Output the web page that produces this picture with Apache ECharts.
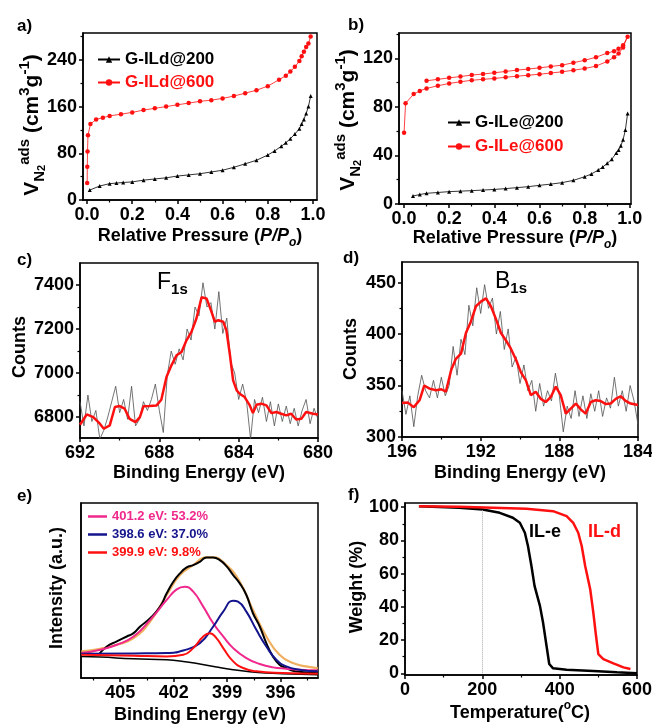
<!DOCTYPE html>
<html><head><meta charset="utf-8">
<script src="https://cdn.jsdelivr.net/npm/echarts@6/dist/echarts.min.js"></script>
<style>html,body{margin:0;padding:0;background:#fff}#c{width:652px;height:724px}</style>
</head><body><div id="c"></div><script>
const F = '"Liberation Sans", Arial, Helvetica, sans-serif';

// ---- panel a: G-ILd isotherms ----
const aX200 = [0.012,0.056,0.1,0.13,0.16,0.2,0.25,0.3,0.35,0.4,0.45,0.5,0.55,0.6,0.65,0.7,0.75,0.8,0.83,0.86,0.88,0.9,0.92,0.94,0.95,0.96,0.97,0.98,0.99];
const aY200 = [17,24,28,29,30,31,34,36,38,41,43,45,48,51,56,62,68,77,84,92,98,105,113,122,130,138,148,160,178];
const aX600 = [0.0005,0.001,0.002,0.004,0.015,0.04,0.07,0.1,0.15,0.2,0.25,0.3,0.35,0.4,0.45,0.5,0.55,0.6,0.65,0.7,0.75,0.8,0.85,0.88,0.9,0.92,0.94,0.95,0.96,0.97,0.98,0.99];
const aY600 = [29,57,83,111,130,138,141,144,147,150,154,157,160,163,166,169,171,174,178,183,188,195,206,213,220,228,238,246,254,262,268,280];

// ---- panel b: G-ILe isotherms ----
const bX200 = [0.04,0.07,0.1,0.15,0.2,0.25,0.3,0.35,0.4,0.45,0.5,0.55,0.6,0.65,0.7,0.75,0.8,0.83,0.86,0.88,0.9,0.92,0.94,0.95,0.96,0.97,0.98,0.99];
const bY200 = [6.6,7.8,8.8,9.5,10.2,10.6,11,11.5,12,12.7,13.5,14.3,15.4,16.4,17.6,19.5,22.5,24.8,28,30.5,33.5,37,42,44.5,48,53,61,74.7];
const bX600 = [0.0005,0.007,0.043,0.07,0.1,0.15,0.2,0.25,0.3,0.35,0.4,0.45,0.5,0.55,0.6,0.65,0.7,0.75,0.8,0.85,0.9,0.93,0.95,0.97,0.99,
               0.97,0.95,0.93,0.9,0.85,0.8,0.75,0.7,0.65,0.6,0.55,0.5,0.45,0.4,0.35,0.3,0.25,0.2,0.15,0.1];
const bY600 = [58.8,83,90.6,93.2,95.3,97.5,99.4,100.8,102,102.8,103.5,104.5,105.4,106.2,107,108,109,110.3,111.7,113.7,117.6,121,124,129,138,
               131,128,126,124.5,121,118.5,116.5,114.5,113.4,112.3,111.3,110.4,109.3,108.2,107.2,106.3,105.1,104,102.8,101.6];

// ---- panel c: F1s ----
const cRawX = [692,691.8,691.6,691.4,691.2,691,690.8,690.6,690.4,690.2,690,689.8,689.6,689.4,689.2,689,688.8,688.6,688.4,688.2,688,687.8,687.6,687.4,687.2,687,686.8,686.6,686.4,686.2,686,685.8,685.6,685.4,685.2,685,684.8,684.6,684.4,684.2,684,683.8,683.6,683.4,683.2,683,682.8,682.6,682.4,682.2,682,681.8,681.6,681.4,681.2,681,680.8,680.6,680.4,680.2,680];
const cRawY = [6870,6760,6900,6780,6830,6700,6740,6800,6870,6940,6820,6880,6790,6940,6760,6790,6870,6830,6880,6950,6830,6730,6990,7100,7040,7110,7060,7200,7150,7300,7260,7410,7300,7320,7200,7370,7180,7250,7050,7000,6880,6950,6870,6700,6880,6820,6890,6780,6870,6760,6860,6780,6850,6770,6840,6760,6830,6880,6770,6840,6790];
const cFitX = [692,691.66,691.33,691.0,690.8,690.5,690.24,690.0,689.75,689.5,689.2,688.98,688.8,688.5,688.14,687.9,687.64,687.39,687.13,686.88,686.63,686.38,686.13,685.87,685.62,685.37,685.2,685.03,684.78,684.62,684.45,684.28,684.1,683.95,683.7,683.44,683.28,683.1,682.86,682.6,682.35,682.1,681.85,681.6,681.35,681.1,680.84,680.6,680.25,680];
const cFitY = [6765,6812,6800,6770,6747,6762,6846,6850,6838,6792,6777,6800,6849,6850,6853,6879,6982,7035,7081,7096,7149,7187,7248,7344,7339,7278,7233,7240,7233,7195,7089,6967,6921,6906,6891,6853,6818,6856,6861,6853,6818,6823,6815,6808,6815,6789,6792,6823,6815,6812];

// ---- panel d: B1s ----
const dRawX = [196,195.8,195.6,195.4,195.2,195,194.8,194.6,194.4,194.2,194,193.8,193.6,193.4,193.2,193,192.8,192.6,192.4,192.2,192,191.8,191.6,191.4,191.2,191,190.8,190.6,190.4,190.2,190,189.8,189.6,189.4,189.2,189,188.8,188.6,188.4,188.2,188,187.8,187.6,187.4,187.2,187,186.8,186.6,186.4,186.2,186,185.8,185.6,185.4,185.2,185,184.8,184.6,184.4,184.2,184];
const dRawY = [345,322,340,310,340,360,345,338,355,338,358,340,350,388,360,395,380,428,408,445,420,448,425,435,400,422,385,405,368,378,352,370,345,355,325,352,330,345,335,362,340,305,330,318,345,320,340,318,342,325,345,320,338,328,358,330,345,325,350,335,312];
const dFitX = [196,195.7,195.4,195.1,194.87,194.6,194.27,194.0,193.77,193.5,193.26,193.0,192.75,192.5,192.24,191.99,191.73,191.48,191.23,190.97,190.72,190.47,190.2,189.96,189.7,189.45,189.2,188.94,188.69,188.43,188.18,187.93,187.67,187.42,187.16,186.9,186.66,186.4,186.15,185.9,185.64,185.39,185.13,184.88,184.63,184.37,184];
const dFitY = [333,333.4,329,336,350,347,345.5,346.4,344,365,376,381,401,412,427,431.5,434.7,427,415,401,394,386,375,363,355,340.6,344,337,334,339,349,340.6,322.7,327.6,332.5,326.6,322.7,334,335.7,335,332,332.5,337,339.6,335,332.5,331];

// ---- panel e: N1s deconvolution (arbitrary units) ----
const eExpX = [406.21,405.75,405.19,404.63,404.25,403.88,403.32,402.76,402.39,402.02,401.65,401.27,400.9,400.53,400.16,399.78,399.41,399.04,398.66,398.29,397.92,397.55,397.17,396.8,396.43,396.06,395.68,395.31,394.94,394.57,393.91];
const eExpY = [70,95,110,125,135,155,180,215,255,290,315,333,340,350,363,363,355,337,310,285,250,195,155,105,65,40,30,22,19,17,14];
const eBgX = [407.18,406.12,404.25,402.39,401.46,400.53,399.6,398.66,397.73,396.8,395.87,393.91];
const eBgY = [65,63,58,55,50,42,33,25,19,15,13,10];
const eEnvX = [407.18,406.12,405.19,404.25,403.32,402.39,401.65,400.9,400.16,399.78,399.04,398.29,397.55,396.8,396.06,395.31,394.57,393.91];
const eEnvY = [80,88,100,120,170,250,310,340,363,363,340,290,205,125,70,45,35,30];
const ePinkX = [407.18,406.12,405.19,404.25,403.32,402.39,401.83,401.37,400.9,400.34,399.78,399.22,398.66,397.92,397.17,396.43,395.68,394.94,393.91];
const ePinkY = [75,85,100,125,175,235,267,275,260,215,165,125,90,60,42,32,28,25,23];
const eBlueX = [407.18,404.25,402.39,401.46,400.53,399.78,399.22,398.66,398.39,397.92,397.36,396.8,396.24,395.68,394.94,393.91];
const eBlueY = [73,74,75,83,105,155,200,233,230,200,145,95,55,35,25,20];
const eRedX = [407.18,404.25,402.39,401.46,400.9,400.34,399.97,399.6,399.22,398.66,398.1,397.36,395.87,393.91];
const eRedY = [70,67,65,70,90,125,135,120,90,50,30,20,15,13];
const eNames = ['401.2 eV: 53.2%','398.6 eV: 37.0%','399.9 eV: 9.8%'];

// ---- panel f: TGA ----
const fEX = [36,140,201,245,279,297,310,318,327,335,349,357,366,373,383,418,487,548,600];
const fEY = [100.6,99.6,98.6,96.6,93.6,90.6,84.6,76.6,64.6,52.6,40.6,30.6,16.6,5.6,3,2.2,1.4,0.6,0];
const fDX = [36,140,227,314,383,418,435,448,457,466,479,487,494,500,513,539,565,583];
const fDY = [100.6,100.2,99.6,99,97.6,94.6,90.6,84.6,76.6,64.6,50.6,36.6,22.6,11.6,8.6,6,3.6,2.6];

// ---- tick values ----
const tkA_x = [0,0.2,0.4,0.6,0.8,1.0], mnA_x = [0.1,0.3,0.5,0.7,0.9];
const tkA_y = [0,80,160,240], mnA_y = [40,120,200,280];
const tkB_y = [0,40,80,120], mnB_y = [20,60,100,140];
const tkC_x = [692,688,684,680], mnC_x = [690,686,682];
const tkC_y = [6800,7000,7200,7400], mnC_y = [6900,7100,7300];
const tkD_x = [196,192,188,184], mnD_x = [194,190,186];
const tkD_y = [300,350,400,450], mnD_y = [325,375,425];
const tkE_x = [405,402,399,396], mnE_x = [406.5,403.5,400.5,397.5,394.5];
const tkF_x = [0,200,400,600], mnF_x = [100,300,500];
const tkF_y = [0,20,40,60,80,100], mnF_y = [10,30,50,70,90];

function pts(xs, ys){ return xs.map((x,i)=>[x, ys[i]]); }

const grids = [
 {left:83, top:33, width:234, height:167},
 {left:399, top:33, width:232, height:171},
 {left:80, top:263, width:238, height:175},
 {left:402, top:262, width:236, height:175},
 {left:81, top:503, width:237, height:175},
 {left:405, top:503, width:232, height:172}
].map(g=>Object.assign({show:true, borderColor:'#000', borderWidth:1.5, backgroundColor:'transparent', containLabel:false, outerBoundsMode:'none'}, g));

const LS = {color:'#000', fontFamily:F, fontWeight:'bold', fontSize:18};
function mainAxis(gi, min, max, labels, fmt, extra){
  return Object.assign({
    type:'value', gridIndex:gi, min:min, max:max,
    axisLine:{show:true, onZero:false, lineStyle:{color:'#000', width:1.5}},
    axisTick:{show:labels.length>0, inside:false, length:4, customValues:labels, lineStyle:{color:'#000', width:1.5}},
    axisLabel:Object.assign({show:labels.length>0, margin:6, customValues:labels, formatter:fmt||(v=>String(v))}, LS),
    splitLine:{show:false}
  }, extra||{});
}
function minorAxis(gi, min, max, vals, extra){
  return Object.assign({
    type:'value', gridIndex:gi, min:min, max:max,
    axisLine:{show:false, onZero:false},
    axisTick:{show:vals.length>0, inside:false, length:2.5, customValues:vals, lineStyle:{color:'#000', width:1.2}},
    axisLabel:{show:false},
    splitLine:{show:false}
  }, extra||{});
}
const f1 = v=>v.toFixed(1);
const xAxes = [
  mainAxis(0,-0.018,1.018,tkA_x,f1,{position:'bottom'}), minorAxis(0,-0.018,1.018,mnA_x,{position:'bottom'}),
  mainAxis(1,-0.022,1.005,tkA_x,f1,{position:'bottom'}), minorAxis(1,-0.022,1.005,mnA_x,{position:'bottom'}),
  mainAxis(2,680,692,tkC_x,null,{position:'bottom',inverse:true}), minorAxis(2,680,692,mnC_x,{position:'bottom',inverse:true}),
  mainAxis(3,184,196,tkD_x,null,{position:'bottom',inverse:true}), minorAxis(3,184,196,mnD_x,{position:'bottom',inverse:true}),
  mainAxis(4,393.9,407.2,tkE_x,null,{position:'bottom',inverse:true}), minorAxis(4,393.9,407.2,mnE_x,{position:'bottom',inverse:true}),
  mainAxis(5,0,600,tkF_x,null,{position:'bottom'}), minorAxis(5,0,600,mnF_x,{position:'bottom'})
];
const yAxes = [
  mainAxis(0,0,286,tkA_y,null,{position:'left'}), minorAxis(0,0,286,mnA_y,{position:'left'}),
  mainAxis(1,0,141,tkB_y,null,{position:'left'}), minorAxis(1,0,141,mnB_y,{position:'left'}),
  mainAxis(2,6705,7500,tkC_y,null,{position:'left'}), minorAxis(2,6705,7500,mnC_y,{position:'left'}),
  mainAxis(3,300,470,tkD_y,null,{position:'left'}), minorAxis(3,300,470,mnD_y,{position:'left'}),
  mainAxis(4,0,527,[],null,{position:'left'}), minorAxis(4,0,527,[],{position:'left'}),
  mainAxis(5,-1,102.5,tkF_y,null,{position:'left'}), minorAxis(5,-1,102.5,mnF_y,{position:'left'})
];

function ser(gi, name, data, o){
  return Object.assign({type:'line', name:name, xAxisIndex:2*gi, yAxisIndex:2*gi, data:data, animation:false, silent:true}, o);
}
const RED = '#ff1010', PINK = '#f0288c', NAVY = '#14148c', ORANGE = '#f0b060';
const series = [
  ser(0,'G-ILd@200',pts(aX200,aY200),{symbol:'triangle',symbolSize:4,itemStyle:{color:'#000'},lineStyle:{color:'#000',width:0.8}}),
  ser(0,'G-ILd@600',pts(aX600,aY600),{symbol:'circle',symbolSize:4.5,itemStyle:{color:RED},lineStyle:{color:RED,width:0.8}}),
  ser(1,'G-ILe@200',pts(bX200,bY200),{symbol:'triangle',symbolSize:4,itemStyle:{color:'#000'},lineStyle:{color:'#000',width:0.8}}),
  ser(1,'G-ILe@600',pts(bX600,bY600),{symbol:'circle',symbolSize:4.5,itemStyle:{color:RED},lineStyle:{color:RED,width:0.8}}),
  ser(2,'c raw',pts(cRawX,cRawY),{symbol:'none',lineStyle:{color:'#505050',width:0.8}}),
  ser(2,'c fit',pts(cFitX,cFitY),{symbol:'none',lineStyle:{color:RED,width:2.5}}),
  ser(3,'d raw',pts(dRawX,dRawY),{symbol:'none',lineStyle:{color:'#505050',width:0.8}}),
  ser(3,'d fit',pts(dFitX,dFitY),{symbol:'none',lineStyle:{color:RED,width:2.5}}),
  ser(4,'env',pts(eEnvX,eEnvY),{symbol:'none',smooth:true,lineStyle:{color:ORANGE,width:2.2}}),
  ser(4,'exp',pts(eExpX,eExpY),{symbol:'none',smooth:true,lineStyle:{color:'#000',width:2}}),
  ser(4,'bg',pts(eBgX,eBgY),{symbol:'none',smooth:true,lineStyle:{color:'#000',width:1.5}}),
  ser(4,eNames[0],pts(ePinkX,ePinkY),{symbol:'none',smooth:true,itemStyle:{color:PINK},lineStyle:{color:PINK,width:2}}),
  ser(4,eNames[1],pts(eBlueX,eBlueY),{symbol:'none',smooth:true,itemStyle:{color:NAVY},lineStyle:{color:NAVY,width:2}}),
  ser(4,eNames[2],pts(eRedX,eRedY),{symbol:'none',smooth:true,itemStyle:{color:RED},lineStyle:{color:RED,width:2}}),
  ser(5,'IL-e',pts(fEX,fEY),{symbol:'none',lineStyle:{color:'#000',width:2.5},
     markLine:{silent:true,symbol:'none',animation:false,label:{show:false},lineStyle:{color:'#aaa',type:'dotted',width:1},
       data:[[{coord:[200,0]},{coord:[200,98.5]}]]}}),
  ser(5,'IL-d',pts(fDX,fDY),{symbol:'none',lineStyle:{color:RED,width:2.5}})
];

const LT = {color:'#000', fontFamily:F, fontWeight:'bold', fontSize:17};
const legends = [
  {data:['G-ILd@200',{name:'G-ILd@600',textStyle:{color:RED}}], left:92, top:46, orient:'vertical', itemWidth:22, itemHeight:8, itemGap:6, textStyle:LT, selectedMode:false},
  {data:['G-ILe@200',{name:'G-ILe@600',textStyle:{color:RED}}], left:442, top:109, orient:'vertical', itemWidth:22, itemHeight:8, itemGap:7, textStyle:LT, selectedMode:false},
  {data:[{name:eNames[0],textStyle:{color:PINK}},{name:eNames[1],textStyle:{color:NAVY}},{name:eNames[2],textStyle:{color:RED}}],
   left:83, top:505, orient:'vertical', icon:'rect', itemWidth:19, itemHeight:2.5, itemGap:5, textStyle:Object.assign({},LT,{fontSize:13}), selectedMode:false}
];

// ---- text graphics ----
const RICH = {
  b:{fontFamily:F, fontSize:18, fontWeight:'bold', fill:'#000', lineHeight:26, verticalAlign:'middle'},
  bi:{fontFamily:F, fontSize:18, fontWeight:'bold', fontStyle:'italic', fill:'#000', lineHeight:26, verticalAlign:'middle'},
  sio:{fontFamily:F, fontSize:12, fontWeight:'bold', fontStyle:'italic', fill:'#000', lineHeight:14, verticalAlign:'bottom'},
  sp:{fontFamily:F, fontSize:12, fontWeight:'bold', fill:'#000', lineHeight:12, verticalAlign:'top'},
  B:{fontFamily:F, fontSize:21, fontWeight:'bold', fill:'#000', lineHeight:30, verticalAlign:'middle'},
  SB:{fontFamily:F, fontSize:15, fontWeight:'bold', fill:'#000', lineHeight:15, verticalAlign:'bottom'},
  SB2:{fontFamily:F, fontSize:11, fontWeight:'bold', fill:'#000', lineHeight:9, verticalAlign:'bottom'},
  PB:{fontFamily:F, fontSize:15, fontWeight:'bold', fill:'#000', lineHeight:15, verticalAlign:'top'},
  F:{fontFamily:F, fontSize:23, fill:'#000', lineHeight:28, verticalAlign:'middle'},
  FS:{fontFamily:F, fontSize:15, fontWeight:'bold', fill:'#000', lineHeight:14, verticalAlign:'bottom'}
};
function T(x, y, text, o){
  const st = Object.assign({text:text, rich:RICH, x:0, y:0, align:'center', verticalAlign:'middle', textAlign:'center', textVerticalAlign:'middle',
    fontFamily:F, fontSize:18, fontWeight:'bold', fill:'#000'}, (o&&o.style)||{});
  return {type:'text', x:x, y:y, rotation:(o&&o.rot)||0, silent:true, z:100, style:st};
}
const VTITLE = '{B|V}{SB|N}{SB2|2}{PB|ads}{B| (cm}{PB|3}{B|g}{PB|-1}{B|)}';
const PT = '{b|Relative Pressure (}{bi|P/P}{sio|o}{b|)}';
const BE = '{b|Binding Energy (eV)}';
const L = {style:{align:'left', textAlign:'left', fontSize:17}};
const graphics = [
  T(17,26,'a)',L), T(348,25,'b)',L), T(17,260,'c)',L), T(343,258,'d)',L), T(17,496,'e)',L), T(348,495,'f)',L),
  T(200,236,PT), T(515,238,PT),
  T(199,473,BE), T(520,473,BE), T(200,715,BE),
  T(520,713,'{b|Temperature(}{sp|o}{b|C)}'),
  T(32,125,VTITLE,{rot:Math.PI/2}), T(348,120,VTITLE,{rot:Math.PI/2}),
  T(20,347,'{b|Counts}',{rot:Math.PI/2}), T(351,349,'{b|Counts}',{rot:Math.PI/2}),
  T(57,588,'{b|Intensity (a.u.)}',{rot:Math.PI/2}), T(357,587,'{b|Weight (%)}',{rot:Math.PI/2}),
  T(157,283,'{F|F}{FS|1s}',{style:{align:'left',textAlign:'left'}}),
  T(495,282,'{F|B}{FS|1s}',{style:{align:'left',textAlign:'left'}}),
  T(529,532,'IL-e',{style:{align:'left',textAlign:'left',fontSize:18}}),
  T(588,532,'IL-d',{style:{align:'left',textAlign:'left',fontSize:18,fill:RED}})
];

const chart = echarts.init(document.getElementById('c'), null, {renderer:'canvas'});
chart.setOption({
  animation:false,
  backgroundColor:'#fff',
  grid:grids, xAxis:xAxes, yAxis:yAxes, series:series, legend:legends, graphic:graphics
});
</script></body></html>
